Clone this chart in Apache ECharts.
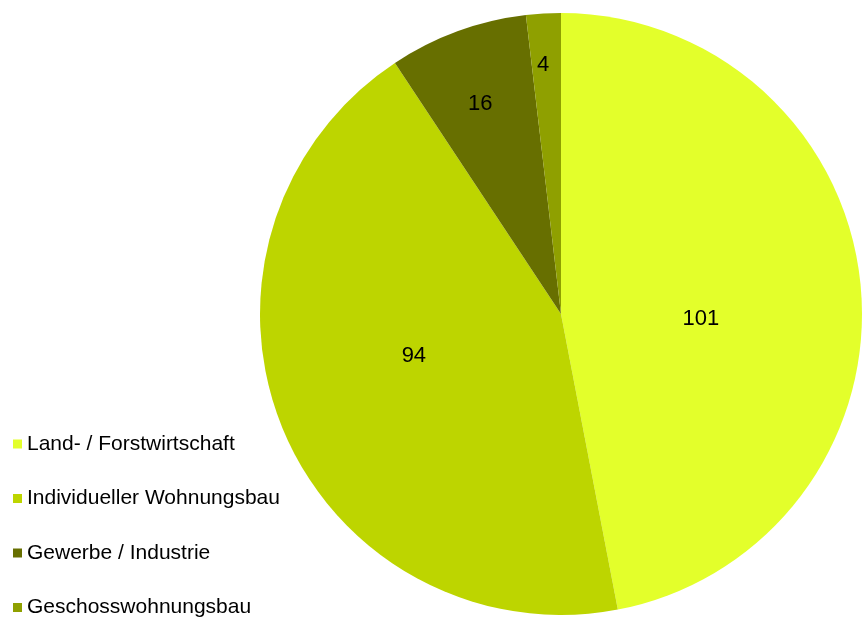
<!DOCTYPE html>
<html>
<head>
<meta charset="utf-8">
<script src="https://cdn.jsdelivr.net/npm/echarts@6/dist/echarts.min.js"></script>
<style>
  html, body { margin: 0; padding: 0; background: #fff; }
  #chart { width: 864px; height: 617px; }
</style>
</head>
<body>
<div id="chart"></div>
<script>
// Flächenverbrauch nach Nutzungsart
const categories = ["Land- / Forstwirtschaft", "Individueller Wohnungsbau", "Gewerbe / Industrie", "Geschosswohnungsbau"];
const values = [101, 94, 16, 4];
const colors = ["#e3ff2b", "#bdd500", "#676f00", "#8fa000"];
// nudges so the labels sit where the original put them
const labelOffsets = [[-13, 19], [-5, -16], [-28, -66], [-9, -96]];

const chartDom = document.getElementById("chart");
const mychart = echarts.init(chartDom);

let option = {
  animation: false,
  legend: {
    orient: "vertical",
    left: 13,
    top: 433,
    height: 300,
    padding: 0,
    icon: "rect",
    itemWidth: 9,
    itemHeight: 9,
    itemGap: 32.5,
    selectedMode: false,
    data: categories,
    textStyle: {
      fontFamily: "Liberation Sans, Arial, sans-serif",
      fontSize: 21,
      lineHeight: 22,
      color: "#000",
    },
  },
  series: [
    {
      type: "pie",
      center: [561, 314],
      radius: 301,
      startAngle: 90,
      clockwise: true,
      silent: true,
      label: {
        position: "inside",
        formatter: "{c}",
        fontFamily: "Liberation Sans, Arial, sans-serif",
        fontSize: 22,
        color: "#000",
      },
      labelLine: { show: false },
      labelLayout: function (params) {
        const o = labelOffsets[params.dataIndex];
        return { dx: o[0], dy: o[1] };
      },
      data: categories.map(function (name, i) {
        return { name: name, value: values[i], itemStyle: { color: colors[i] } };
      }),
    },
  ],
};

mychart.setOption(option);
</script>
</body>
</html>
